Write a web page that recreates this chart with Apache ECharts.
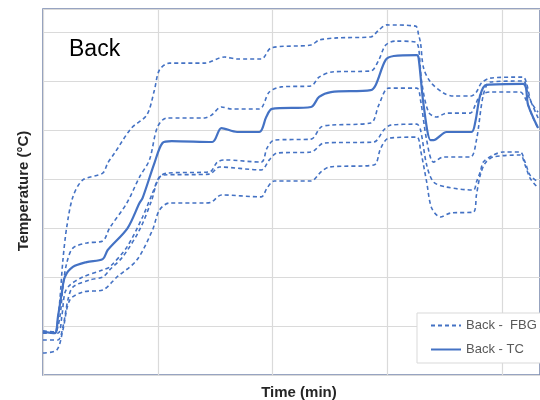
<!DOCTYPE html>
<html>
<head>
<meta charset="utf-8">
<script src="https://cdn.jsdelivr.net/npm/echarts@6/dist/echarts.min.js"></script>
<style>
  html, body { margin: 0; padding: 0; background: #ffffff; }
  #chart { width: 540px; height: 400px; }
</style>
</head>
<body>
<div id="chart"></div>
<script>
// Time axis (min) and temperature axis (°C) set-up
const timeRange = [0, 129.8];
const timeStep = 30;
const tempRange = [0, 149.4];
const tempStep = 20;

// Thermocouple reading on the back face: [time (min), temperature (°C)]
const backTC = [
  [0, 17.6], [3.1, 17.1], [3.9, 23.7], [4.9, 33.5], [5.7, 40.0], [7.8, 44.1],
  [11.4, 46.1], [15.6, 47.3], [16.9, 51.0], [22.1, 60.0], [25.2, 70.2], [26.0, 72.2],
  [29.1, 86.5], [31.2, 94.7], [33.6, 95.5], [44.2, 95.1], [46.6, 100.8], [50.7, 99.2],
  [56.5, 99.2], [58.3, 105.3], [59.8, 108.6], [70.0, 109.4], [72.1, 113.5], [75.2, 115.5],
  [85.6, 116.3], [86.9, 118.4], [89.5, 128.6], [91.6, 130.2], [97.6, 130.6], [98.1, 129.4],
  [99.4, 110.2], [101.2, 95.9], [102.0, 95.9], [105.4, 99.2], [111.9, 99.2], [112.9, 103.3],
  [114.2, 114.3], [115.8, 118.4], [125.4, 118.8], [126.7, 110.2], [129.3, 100.8]
];

// Fibre Bragg grating sensors on the back face
const backFBG1 = [
  [0, 17.6], [3.1, 17.1], [3.6, 19.6], [4.4, 30.6], [5.2, 46.9], [6.2, 60.4], [7.8, 72.7],
  [10.4, 79.6], [15.6, 82.4], [16.9, 86.5], [18.7, 90.6], [23.1, 100.8], [27.1, 106.1],
  [29.1, 116.3], [30.4, 124.5], [33.0, 127.3], [42.2, 127.3], [47.4, 129.8], [50.7, 129.0],
  [57.0, 129.0], [59.6, 133.5], [70.0, 134.7], [72.1, 136.7], [76.8, 137.6], [85.6, 138.0],
  [87.7, 140.8], [89.8, 142.9], [97.3, 142.4], [98.1, 138.8], [98.6, 135.5], [99.4, 125.3],
  [101.2, 119.6], [104.6, 115.1], [107.2, 113.9], [111.9, 113.9], [113.2, 115.5],
  [114.5, 119.2], [116.8, 121.2], [125.4, 121.6], [126.2, 119.6], [127.5, 111.4], [129.3, 107.3]
];

const backFBG2 = [
  [0, 18.0], [3.1, 17.6], [4.4, 23.7], [5.2, 35.9], [6.2, 45.7], [7.8, 51.8], [11.4, 53.9],
  [15.6, 54.7], [17.4, 60.0], [21.9, 70.2], [25.2, 80.8], [27.8, 87.8], [29.9, 101.2],
  [32.3, 104.9], [42.2, 104.9], [44.0, 106.1], [46.6, 109.4], [49.2, 108.6], [56.5, 108.6],
  [59.1, 115.5], [62.2, 117.6], [70.0, 118.0], [72.1, 121.6], [75.5, 123.7], [85.6, 124.1],
  [87.7, 128.6], [89.5, 134.7], [92.1, 136.3], [97.3, 135.9], [98.1, 133.5], [98.9, 119.6],
  [100.7, 107.3], [102.8, 105.3], [105.4, 106.9], [111.6, 106.9], [112.9, 110.2],
  [114.2, 114.3], [116.8, 115.5], [124.6, 115.5], [125.9, 113.1], [128.0, 104.9], [129.3, 100.8]
];

const backFBG3 = [
  [0, 17.1], [3.9, 17.1], [4.9, 23.7], [5.7, 33.5], [7.0, 36.7], [10.4, 40.0], [15.6, 42.9],
  [17.4, 44.1], [21.9, 52.2], [26.0, 64.5], [28.6, 74.3], [30.4, 80.8], [32.3, 82.4],
  [43.5, 82.9], [45.5, 86.9], [47.4, 87.8], [57.0, 86.9], [58.5, 92.6], [60.4, 95.9],
  [70.0, 96.3], [72.6, 101.2], [75.2, 102.0], [85.6, 102.9], [87.7, 110.2], [90.3, 117.1],
  [97.6, 117.1], [98.6, 112.2], [100.2, 95.9], [102.0, 86.9], [104.6, 89.0], [111.6, 89.0],
  [113.2, 95.9], [115.0, 114.3], [116.8, 119.6], [125.4, 120.0], [126.7, 114.3], [129.3, 104.9]
];

const backFBG4 = [
  [0, 14.3], [3.9, 14.3], [5.2, 19.6], [6.5, 30.6], [7.8, 35.9], [12.2, 38.8], [15.6, 40.0],
  [17.4, 42.9], [20.8, 48.2], [25.2, 59.2], [28.4, 71.4], [29.7, 78.4], [31.2, 81.6],
  [43.5, 82.0], [46.1, 84.9], [57.0, 83.7], [59.1, 87.8], [61.1, 90.6], [70.0, 91.0],
  [73.4, 94.7], [86.4, 95.1], [89.0, 100.0], [90.8, 102.0], [97.6, 102.4], [98.6, 100.0],
  [100.2, 85.7], [102.0, 78.8], [105.4, 76.7], [112.4, 75.5], [113.2, 78.8], [114.2, 82.9],
  [115.0, 86.9], [117.6, 89.8], [120.2, 91.0], [124.6, 91.0], [125.9, 86.9], [127.2, 81.6],
  [129.3, 78.8]
];

const backFBG5 = [
  [0, 9.0], [3.6, 10.2], [5.2, 18.4], [7.0, 30.6], [10.4, 33.9], [15.6, 34.7], [19.3, 40.0],
  [24.5, 46.9], [28.6, 59.2], [30.4, 67.3], [33.0, 70.2], [42.2, 70.2], [44.0, 70.6],
  [46.6, 73.5], [57.0, 72.7], [58.5, 76.3], [60.4, 79.2], [70.0, 79.2], [72.6, 82.9],
  [74.7, 84.9], [86.4, 85.7], [88.2, 92.6], [90.3, 96.7], [97.6, 97.1], [98.6, 91.8],
  [100.2, 78.8], [101.5, 68.2], [103.8, 64.5], [106.4, 66.1], [112.4, 66.5], [113.2, 73.5],
  [114.2, 81.6], [115.5, 86.5], [117.6, 89.0], [124.6, 89.8], [125.9, 85.7], [127.2, 80.4],
  [129.3, 76.3]
];

const fbgSeries = [backFBG1, backFBG2, backFBG3, backFBG4, backFBG5];

const fbgName = 'Back -  FBG';
const tcName = 'Back - TC';
const lineBlue = '#4472C4';

const chart = echarts.init(document.getElementById('chart'), null, { renderer: 'canvas' });

const series = fbgSeries.map(function (d) {
  return {
    name: fbgName,
    type: 'line',
    data: d,
    showSymbol: false,
    symbol: 'none',
    smooth: 0.3,
    z: 2,
    lineStyle: { color: lineBlue, width: 1.6, type: [4, 3] },
    itemStyle: { color: lineBlue }
  };
});
series.push({
  name: tcName,
  type: 'line',
  data: backTC,
  showSymbol: false,
  symbol: 'none',
  smooth: 0.3,
  z: 3,
  lineStyle: { color: lineBlue, width: 2.2, type: 'solid' },
  itemStyle: { color: lineBlue }
});

chart.setOption({
  animation: false,
  backgroundColor: '#ffffff',
  grid: {
    left: 43, top: 9, right: -2, bottom: 25,
    show: true,
    borderColor: '#7586AD',
    borderWidth: 1.6,
    backgroundColor: 'transparent'
  },
  xAxis: {
    type: 'value',
    min: timeRange[0], max: timeRange[1], interval: timeStep,
    axisLabel: { show: false },
    axisTick: { show: false },
    axisLine: { show: false },
    splitLine: { show: true, lineStyle: { color: '#DADADA', width: 1.2 } }
  },
  yAxis: {
    type: 'value',
    min: tempRange[0], max: tempRange[1], interval: tempStep,
    axisLabel: { show: false },
    axisTick: { show: false },
    axisLine: { show: false },
    splitLine: { show: true, lineStyle: { color: '#DADADA', width: 1.2 } }
  },
  legend: {
    orient: 'vertical',
    left: 430, top: 319,
    padding: 0,
    itemWidth: 30, itemHeight: 14, itemGap: 11,
    z: 10,
    itemStyle: { opacity: 0, borderWidth: 0 },
    data: [fbgName, tcName],
    textStyle: { color: '#595959', fontSize: 13, fontFamily: 'Liberation Sans, Arial, sans-serif' }
  },
  graphic: [
    {
      type: 'rect', z: 5,
      shape: { x: 417, y: 313, width: 140, height: 50 },
      style: { fill: '#ffffff', stroke: '#D9D9D9', lineWidth: 1 }
    },
    {
      type: 'text', left: 69, top: 38, z: 10,
      style: { text: 'Back', fill: '#000000', fontSize: 23, fontFamily: 'Liberation Sans, Arial, sans-serif' }
    },
    {
      type: 'text', z: 10,
      x: 299, y: 393,
      style: { text: 'Time (min)', fill: '#262626', fontSize: 15, fontWeight: 'bold',
        fontFamily: 'Liberation Sans, Arial, sans-serif', align: 'center', verticalAlign: 'middle' }
    },
    {
      type: 'text', z: 10,
      x: 24, y: 191, rotation: Math.PI / 2,
      style: { text: 'Temperature (°C)', fill: '#262626', fontSize: 15, fontWeight: 'bold',
        fontFamily: 'Liberation Sans, Arial, sans-serif', align: 'center', verticalAlign: 'middle' }
    }
  ],
  series: series
});
</script>
</body>
</html>
